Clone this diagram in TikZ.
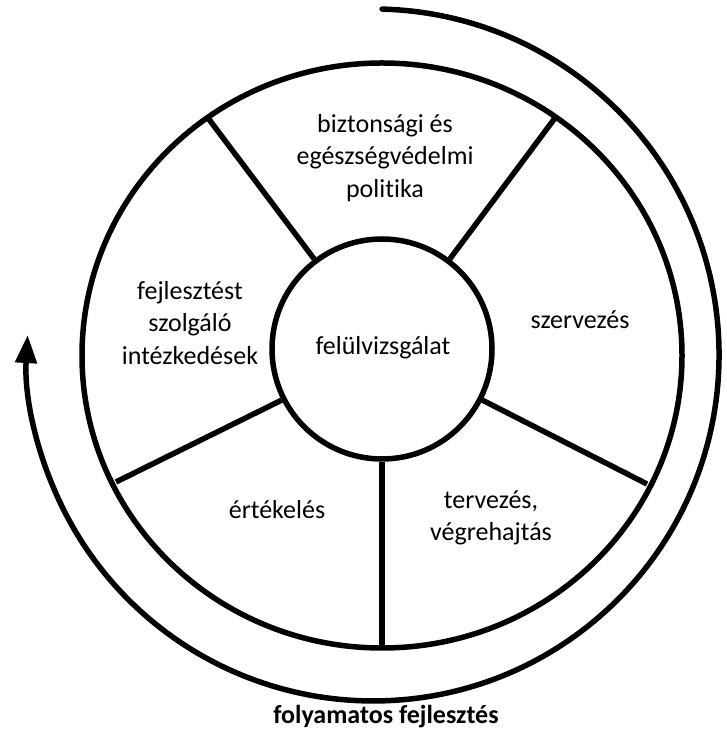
\documentclass[tikz,border=0pt]{standalone}
\usepackage{fontspec}
\setmainfont{Carlito}[Ligatures=NoCommon]
\usetikzlibrary{arrows.meta}
\begin{document}
\begin{tikzpicture}[x=1pt,y=1pt,
  ring/.style={line width=5.5pt},
  label/.style={align=center,font=\fontsize{26}{32.5}\selectfont,inner sep=0pt},
  cycle/.style={line width=5.5pt,line cap=round,-{Triangle[length=28pt,width=21pt]}}]
\useasboundingbox (0,0) rectangle (727,733);
% outer ring
\draw[ring] (382,377.5) ellipse[x radius=300,y radius=292.5];
% inner circle
\node[ring,draw,circle,minimum size=220pt,inner sep=0pt,fill=white] (c) at (382,384) {};
\node[label] (felul) at (383,385) {felülvizsgálat};
% outer ends of spokes
\coordinate (oTL) at (208,615);
\coordinate (oTR) at (555,615);
\coordinate (oBL) at (116,251);
\coordinate (oBR) at (647,249);
\coordinate (oB) at (382,85);
\draw[ring] (c.127.2) -- (oTL);
\draw[ring] (c.53.2) -- (oTR);
\draw[ring] (c.207) -- (oBL);
\draw[ring] (c.333) -- (oBR);
\draw[ring] (c.270) -- (oB);
% sector labels
\node[label] (pol) at (385,575) {biztonsági és\\egészségvédelmi\\politika};
\node[label] (szerv) at (580,413) {szervezés};
\node[label] (fejl) at (190,410) {fejlesztést\\szolgáló\\intézkedések};
\node[label] (ert) at (277,223) {értékelés};
\node[label] (terv) at (491,215) {tervezés,\\végrehajtás};
% cycle arrow
\coordinate (s) at (382.1,723.9);
\draw[cycle] (s) arc[start angle=88.5,end angle=-183.3,radius=346];
\node[label,font=\fontsize{26}{32}\selectfont\bfseries] (folyt) at (386,16) {folyamatos fejlesztés};
\end{tikzpicture}
\end{document}
